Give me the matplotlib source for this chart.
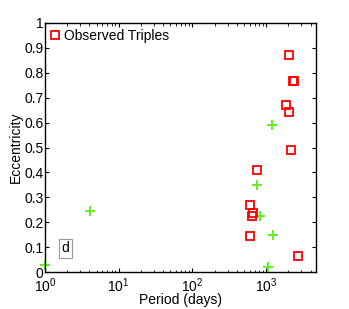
import matplotlib
matplotlib.use("Agg")
import matplotlib.pyplot as plt
from matplotlib.ticker import LogLocator, NullFormatter

plt.rcParams['font.family'] = ['Liberation Sans', 'DejaVu Sans']

obs_period = [2070, 2300, 2400, 1870, 2010, 2160, 755, 607, 660, 645, 600, 2720]
obs_ecc = [0.870, 0.768, 0.768, 0.672, 0.643, 0.489, 0.408, 0.268, 0.236, 0.225, 0.146, 0.063]

sim_period = [1195, 762, 829, 1233, 1064, 4.12, 1.0]
sim_ecc = [0.589, 0.348, 0.226, 0.147, 0.021, 0.246, 0.028]

ytick_vals = [0, 0.1, 0.2, 0.3, 0.4, 0.5, 0.6, 0.7, 0.8, 0.9, 1]
ytick_labels = ['0', '0.1', '0.2', '0.3', '0.4', '0.5', '0.6', '0.7', '0.8', '0.9', '1']

fig = plt.figure(figsize=(3.49, 3.09), dpi=100)
ax = fig.add_axes([0.129, 0.1197, 0.7756, 0.8059])

ax.plot(sim_period, sim_ecc, linestyle='none', marker='+', markersize=7,
        markeredgewidth=1.4, color='#66ee22', clip_on=False)
ax.plot(obs_period, obs_ecc, linestyle='none', marker='s', markersize=5.5,
        markerfacecolor='none', markeredgewidth=1.3, color='#ff0000',
        label='Observed Triples', clip_on=False)

ax.set_xscale('log')
ax.set_xlim(1, 4700)
ax.set_ylim(0, 1)
ax.set_yticks(ytick_vals)
ax.set_yticklabels(ytick_labels)
ax.xaxis.set_major_locator(LogLocator(base=10, numticks=10))
ax.xaxis.set_minor_locator(LogLocator(base=10, subs=range(2, 10), numticks=10))
ax.xaxis.set_minor_formatter(NullFormatter())

ax.tick_params(which='both', direction='in', top=True, right=True, labelsize=10)
ax.tick_params(axis='y', pad=1)
ax.tick_params(axis='x', pad=3)
ax.tick_params(which='major', length=3, width=0.8)
ax.tick_params(which='minor', length=1.8, width=0.6)
for s in ax.spines.values():
    s.set_linewidth(1.0)

ax.set_xlabel('Period (days)', fontsize=10, labelpad=-1)
ax.set_ylabel('Eccentricity', fontsize=10, labelpad=1)

leg = ax.legend(loc='upper left', fontsize=10, frameon=False, handlelength=0.6,
                handletextpad=0.4, borderaxespad=0.2, borderpad=0.2)

ax.text(1.88, 0.095, 'd', fontsize=10, ha='center', va='center',
        bbox=dict(boxstyle='square,pad=0.2', facecolor='white', edgecolor='#999999', linewidth=0.8))

fig.savefig('out.png', dpi=100)
